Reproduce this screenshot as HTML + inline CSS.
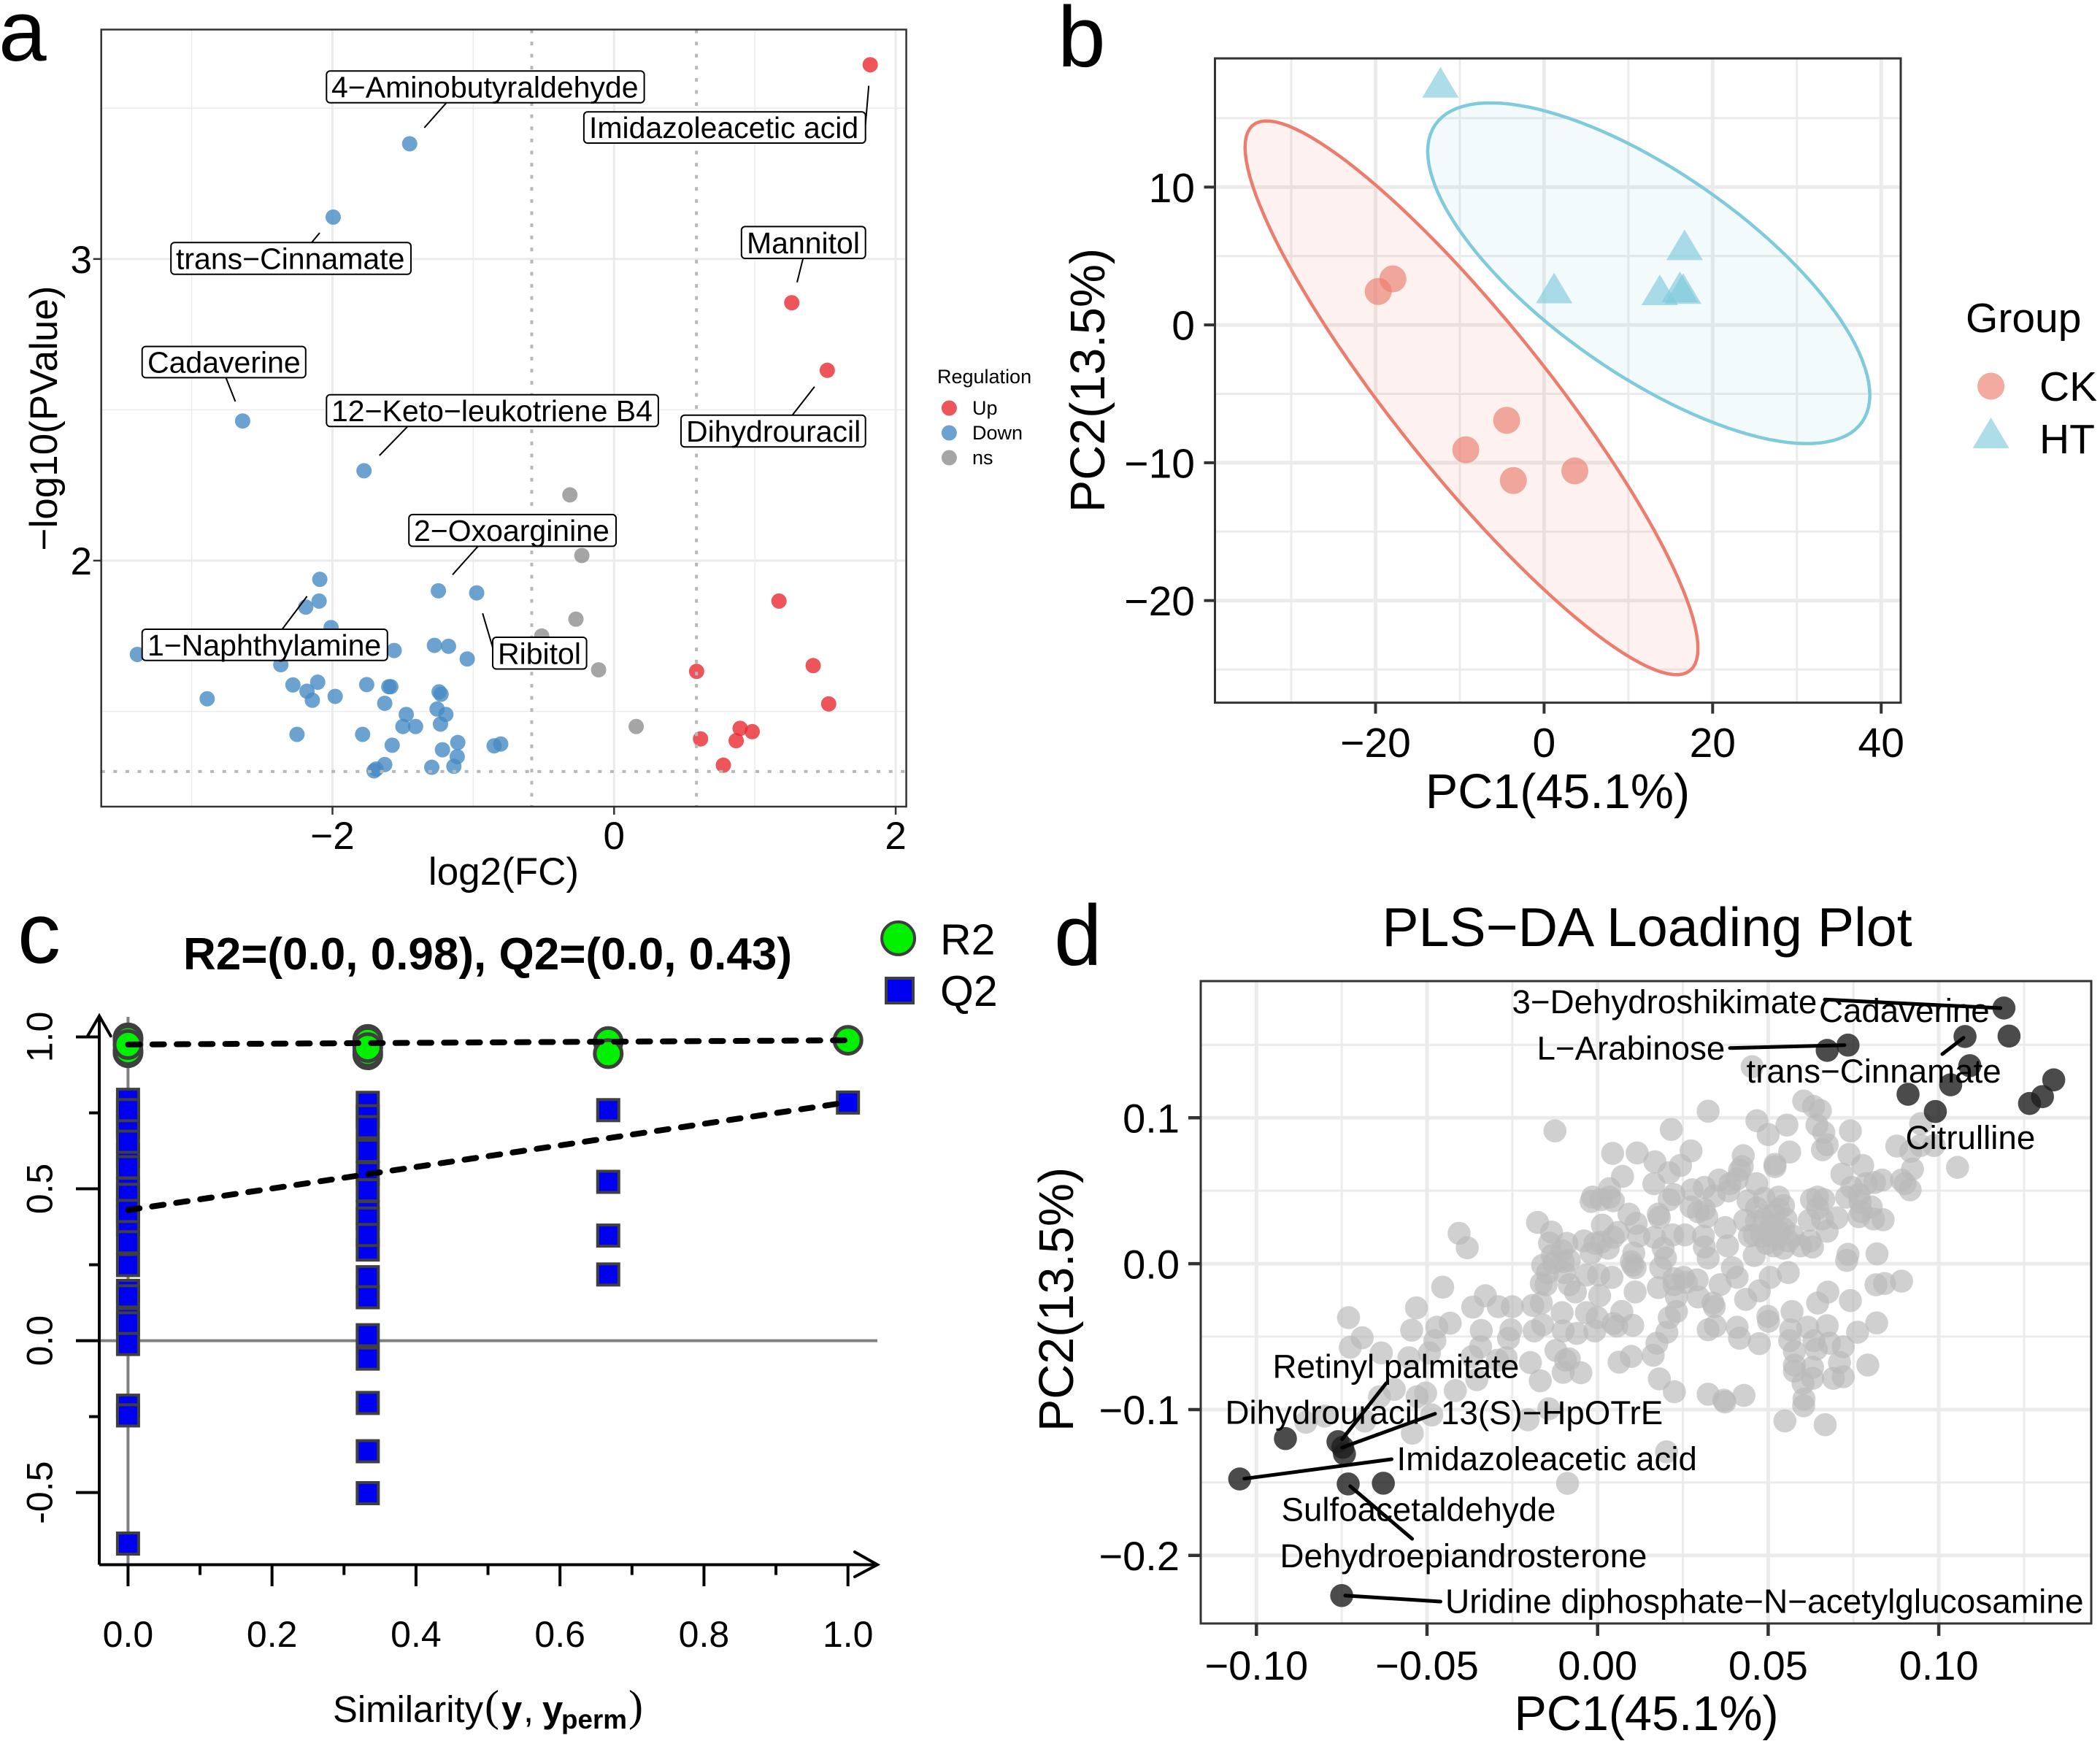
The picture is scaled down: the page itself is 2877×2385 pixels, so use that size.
<!DOCTYPE html>
<html lang="en">
<head>
<meta charset="utf-8">
<title>Metabolomics figure panels</title>
<style>
html,body{margin:0;padding:0;background:#fff;width:2877px;height:2385px;overflow:hidden}
svg{display:block}
text{font-family:"Liberation Sans",sans-serif;fill:#000}
.lab{font-size:41px}
.dlab{font-size:45.7px}
.box{fill:#fff;stroke:#000;stroke-width:2}
.seg{stroke:#000;stroke-width:2;fill:none}
.dseg{stroke:#000;stroke-width:5;fill:none;stroke-linecap:round}
.panel{font-size:118px}
</style>
</head>
<body>
<svg xmlns="http://www.w3.org/2000/svg" width="2877" height="2385" viewBox="0 0 2877 2385">
<rect width="2877" height="2385" fill="#fff"/>

<text class="panel" x="-2" y="83">a</text>
<text class="panel" x="1449" y="91">b</text>
<text class="panel" x="24" y="1319">c</text>
<text class="panel" x="1444" y="1322">d</text>

<g id="panel-a"></g>
<g id="a-annot">
  <line class="seg" x1="611.6" y1="140.8" x2="581.3" y2="175"/>
  <rect class="box" x="447.3" y="97.3" width="435.3" height="43.5" rx="5"/>
  <text class="lab" x="454" y="133.5">4−Aminobutyraldehyde</text>

  <line class="seg" x1="1190.2" y1="117.5" x2="1185.7" y2="171"/>
  <rect class="box" x="799.9" y="153.3" width="385.8" height="42.7" rx="5"/>
  <text class="lab" x="807" y="189">Imidazoleacetic acid</text>

  <line class="seg" x1="438" y1="319" x2="427" y2="332.2"/>
  <rect class="box" x="234.2" y="332.2" width="328.8" height="43.6" rx="5"/>
  <text class="lab" x="241" y="368.5">trans−Cinnamate</text>

  <line class="seg" x1="1100.2" y1="354" x2="1092" y2="386.7"/>
  <rect class="box" x="1015.8" y="310.4" width="169.9" height="43.6" rx="5"/>
  <text class="lab" x="1023" y="347">Mannitol</text>

  <line class="seg" x1="309.5" y1="517.4" x2="322.4" y2="550"/>
  <rect class="box" x="194.7" y="474.6" width="224.1" height="42.8" rx="5"/>
  <text class="lab" x="202" y="510.5">Cadaverine</text>

  <line class="seg" x1="558.4" y1="584.3" x2="519.8" y2="624"/>
  <rect class="box" x="447.3" y="540.7" width="454.6" height="43.6" rx="5"/>
  <text class="lab" x="454" y="577">12−Keto−leukotriene B4</text>

  <line class="seg" x1="1115.9" y1="529.8" x2="1085.5" y2="568.7"/>
  <rect class="box" x="933" y="568.7" width="252.7" height="43.6" rx="5"/>
  <text class="lab" x="940" y="605">Dihydrouracil</text>

  <line class="seg" x1="654.8" y1="748.4" x2="620" y2="787.3"/>
  <rect class="box" x="560.2" y="704.9" width="283.8" height="43.5" rx="5"/>
  <text class="lab" x="567" y="741">2−Oxoarginine</text>

  <line class="seg" x1="420.6" y1="816.9" x2="386.6" y2="862"/>
  <rect class="box" x="194.7" y="862" width="336.1" height="42.8" rx="5"/>
  <text class="lab" x="202" y="898">1−Naphthylamine</text>

  <line class="seg" x1="661.2" y1="840.2" x2="675" y2="887"/>
  <rect class="box" x="675" y="873" width="128.6" height="43.5" rx="5"/>
  <text class="lab" x="682" y="909.5">Ribitol</text>
</g>
<g id="a-legend">
  <text x="1284" y="525" font-size="27">Regulation</text>
  <circle cx="1300.4" cy="559" r="10.5" fill="#e82a31" opacity=".8"/>
  <text x="1332" y="568" font-size="27">Up</text>
  <circle cx="1300.4" cy="593" r="10.5" fill="#478bc4" opacity=".8"/>
  <text x="1332" y="602" font-size="27">Down</text>
  <circle cx="1300.4" cy="627" r="10.5" fill="#8e8e8e" opacity=".8"/>
  <text x="1332" y="636" font-size="27">ns</text>
</g>

<g id="panel-b"></g>
<g id="b-legend">
  <text x="2693" y="455" font-size="57">Group</text>
  <circle cx="2727.6" cy="529" r="18.5" fill="#eb7d6e" opacity=".65"/>
  <text x="2794" y="549" font-size="57">CK</text>
  <polygon points="2727.6,572 2752.6,614 2702.6,614" fill="#7fcbdb" opacity=".65"/>
  <text x="2794" y="621" font-size="57">HT</text>
</g>

<g id="panel-c"></g>
<g id="c-static">
  <text x="668" y="1328" font-size="62" font-weight="bold" text-anchor="middle">R2=(0.0, 0.98), Q2=(0.0, 0.43)</text>
  <circle cx="1230.6" cy="1285.4" r="22.5" fill="#00f000" stroke="#3f3f3f" stroke-width="4"/>
  <text x="1288" y="1307.7" font-size="59">R2</text>
  <rect x="1214" y="1340" width="37" height="34" fill="#0000f0" stroke="#3f3f3f" stroke-width="4"/>
  <text x="1288" y="1378" font-size="59">Q2</text>
  <g>
    <text x="456" y="2359" font-size="50.8">Similarity</text>
    <text x="664" y="2357" font-size="60" style="font-family:'Liberation Serif',serif">(</text>
    <text x="687" y="2359" font-size="50.8" font-weight="bold">y</text>
    <text x="717" y="2359" font-size="50.8">,</text>
    <text x="743" y="2359" font-size="50.8" font-weight="bold">y</text>
    <text x="769" y="2368" font-size="36.8" font-weight="bold">perm</text>
    <text x="861" y="2357" font-size="60" style="font-family:'Liberation Serif',serif">)</text>
  </g>
</g>

<g id="panel-d"></g>
<g id="d-annot">
  <line class="dseg" x1="2500" y1="1369.3" x2="2740.6" y2="1381"/>
  <line class="dseg" x1="2370" y1="1435.7" x2="2526.9" y2="1431.7"/>
  <line class="dseg" x1="2661" y1="1444" x2="2690" y2="1421.7"/>
  <line class="dseg" x1="1899" y1="1895" x2="1838.7" y2="1971.7"/>
  <line class="dseg" x1="1966" y1="1936.7" x2="1838.7" y2="1983"/>
  <line class="dseg" x1="1906.5" y1="1999" x2="1704.7" y2="2025.7"/>
  <line class="dseg" x1="1849.8" y1="2036" x2="1934.6" y2="2108"/>
  <line class="dseg" x1="1843" y1="2185.7" x2="1973.5" y2="2194"/>
  <text class="dlab" x="2071.5" y="1388">3−Dehydroshikimate</text>
  <text class="dlab" x="2492" y="1400">Cadaverine</text>
  <text class="dlab" x="2105.5" y="1451.7">L−Arabinose</text>
  <text class="dlab" x="2392.5" y="1483">trans−Cinnamate</text>
  <text class="dlab" x="2610.5" y="1574">Citrulline</text>
  <text class="dlab" x="1743.5" y="1887.5">Retinyl palmitate</text>
  <text class="dlab" x="1678.5" y="1950.5">Dihydrouracil</text>
  <text class="dlab" x="1974" y="1951">13(S)−HpOTrE</text>
  <text class="dlab" x="1913.5" y="2014">Imidazoleacetic acid</text>
  <text class="dlab" x="1755.5" y="2083.5">Sulfoacetaldehyde</text>
  <text class="dlab" x="1753.5" y="2147">Dehydroepiandrosterone</text>
  <text class="dlab" x="1980" y="2209.5" style="font-size:46px">Uridine diphosphate−N−acetylglucosamine</text>
  <text x="2256.5" y="1296" font-size="75.3" text-anchor="middle">PLS−DA Loading Plot</text>
</g>
</svg>

<script>
/* ---------- Panel a: volcano data (log2FC, -log10P) ---------- */
const volcanoUp=[[1.819,3.644],[1.262,2.855],[1.514,2.631],[1.171,1.866],[1.414,1.652],[0.586,1.633],[1.524,1.525],[0.895,1.444],[0.981,1.433],[0.614,1.409],[0.867,1.403],[0.776,1.322]];
const volcanoNs=[[-0.314,2.218],[-0.229,2.017],[-0.271,1.806],[-0.514,1.750],[-0.110,1.638],[0.157,1.450]];
const volcanoDown=[[-1.452,3.382],[-1.995,3.139],[-2.638,2.463],[-1.776,2.298],[-2.090,1.938],[-2.095,1.866],[-2.190,1.846],[-1.248,1.900],[-0.976,1.893],[-2.010,1.778],[-3.386,1.689],[-1.562,1.702],[-1.276,1.719],[-1.176,1.716],[-1.043,1.674],[-2.367,1.655],[-2.281,1.588],[-2.105,1.597],[-2.181,1.567],[-2.143,1.537],[-1.981,1.550],[-2.890,1.542],[-1.757,1.589],[-1.600,1.582],[-1.586,1.582],[-1.243,1.565],[-1.229,1.557],[-1.629,1.527],[-1.257,1.508],[-1.195,1.490],[-1.476,1.490],[-1.500,1.450],[-1.410,1.450],[-1.233,1.458],[-2.252,1.424],[-1.786,1.424],[-1.576,1.388],[-1.110,1.397],[-1.219,1.373],[-1.114,1.350],[-0.852,1.386],[-0.805,1.392],[-1.629,1.324],[-1.690,1.309],[-1.705,1.303],[-1.295,1.315],[-1.138,1.318]];
const volcanoXTicks=[-2,0,2];
const volcanoXTickLabels=['−2','0','2'];
const volcanoXMinor=[-3,-1,1];
const volcanoYTicks=[2,3];
const volcanoYTickLabels=['2','3'];
const volcanoYMinor=[1.5,2.5,3.5];
const volcanoFcCut=[-0.585,0.585];
const volcanoPCut=[1.301];

/* ---------- Panel b: PCA scores ---------- */
const scoresCK=[[-17.94,3.34],[-19.68,2.43],[-4.44,-6.92],[-9.29,-9.06],[-3.65,-11.29],[3.65,-10.59]];
const scoresHT=[[-12.3,17.6],[16.67,5.81],[1.19,2.68],[13.73,2.55],[16.11,2.76],[16.5,2.64]];
const ckEllipseCenter=[-8.61,-5.29];
const ckEllipseRadii=[26.87,20.09];
const ckEllipseCorr=-0.905;
const htEllipseCenter=[12.42,3.75];
const htEllipseRadii=[26.23,12.36];
const htEllipseCorr=-0.7156;
const pcaXTicks=[-20,0,20,40];
const pcaXTickLabels=['−20','0','20','40'];
const pcaXMinor=[-30,-10,10,30];
const pcaYTicks=[-20,-10,0,10];
const pcaYTickLabels=['−20','−10','0','10'];
const pcaYMinor=[-25,-15,-5,5,15];

/* ---------- Panel c: permutation test ---------- */
const permR2=[[0,0.997],[0,0.948],[0,0.99],[0,0.955],[0,0.975],
  [0.333,0.992],[0.333,0.941],[0.333,0.985],[0.333,0.95],[0.333,0.965],
  [0.667,0.985],[0.667,0.945],[1,0.989]];
const permQ2=[[0,0.793],[0,0.72],[0,0.705],[0,0.61],[0,0.5],[0,0.48],[0,0.41],[0,0.384],[0,0.249],[0,0.759],[0,0.655],[0,0.571],[0,0.427],[0,0.324],[0,0.164],[0,0.146],[0,0.071],[0,0.057],[0,-0.011],[0,-0.214],[0,-0.246],[0,-0.668],
  [0.333,0.783],[0.333,0.739],[0.333,0.703],[0.333,0.625],[0.333,0.551],[0.333,0.495],[0.333,0.423],[0.333,0.402],[0.333,0.30],[0.333,0.348],[0.333,0.209],[0.333,0.143],[0.333,0.018],[0.333,-0.059],[0.333,-0.205],[0.333,-0.364],[0.333,-0.502],
  [0.667,0.759],[0.667,0.523],[0.667,0.346],[0.667,0.218],[1,0.784]];
const r2Fit=[[0,0.975],[1,0.989]];
const q2Fit=[[0,0.43],[1,0.785]];
const permXTicks=[0,0.2,0.4,0.6,0.8,1];
const permXTickLabels=['0.0','0.2','0.4','0.6','0.8','1.0'];
const permXMinor=[0.1,0.3,0.5,0.7,0.9];
const permYTicks=[-0.5,0,0.5,1];
const permYTickLabels=['-0.5','0.0','0.5','1.0'];
const permYMinor=[-0.25,0.25,0.75];

/* ---------- Panel d: PLS-DA loadings ---------- */
const loadingsHighlighted=[[0.1191,0.1752],[0.1206,0.1560],[0.1077,0.1557],[0.0673,0.1462],[0.0734,0.1498],[0.1091,0.1357],[0.1337,0.1260],[0.1304,0.1145],[0.1266,0.1098],[0.1035,0.1226],[0.0910,0.1161],[0.0990,0.1043],[-0.0915,-0.1199],[-0.0761,-0.1220],[-0.0747,-0.1259],[-0.0742,-0.1304],[-0.1049,-0.1476],[-0.0731,-0.1510],[-0.0628,-0.1505],[-0.0750,-0.2275]];
const loadingsOtherUpper=[[.0453,.135],[.0604,.1115],[.0633,.1078],[.0653,.105],[.0555,.095],[.0467,.098],[.05,.0885],[.0643,.095],[.0663,.09],[.0741,.091],[.0324,.1045],[.0216,.092],[-.0125,.091],[.1055,.066],[.0947,.081],[.0986,.081],[.0947,.096],[.0918,.077],[-.0406,.0208],[-.0176,.0283],[-.0135,.0216],[-.0141,.0141]];
const loadingsOtherCentral=[[.0044,.0756],[.0116,.0759],[.0168,.0698],[.0274,.0773],[.0243,.0673],[.021,.0623],[.0073,.0598],[.0165,.0548],[.0427,.074],[.0563,.0765],[.052,.0681],[.052,.0665],[.0424,.0665],[.0416,.0639],[.0659,.0781],[.0673,.0815],[.0737,.0748],[.0777,.0673],[.0877,.0806],[.0716,.0614],[.0745,.0523],[.0787,.0548],[.0834,.0573],[.0812,.0556],[.0891,.0573],[.0901,.0548],[.0916,.0506],[.0923,.0648],[-.0015,.0456],[-.0019,.0426],[.0035,.0514],[.0035,.0456],[.0046,.0431],[.001,.0439],[.021,.0439],[.0224,.0473],[.0277,.0506],[.0313,.0523],[.0356,.0573],[.0388,.0548],[.0409,.0581],[.0342,.0464],[.0384,.0498],[.0466,.0548],[.0441,.0431],[.0488,.0448],[.0531,.0456],[.0545,.0398],[.0627,.0439],[.0663,.0439],[.0645,.0381],[.062,.0297],[.0659,.0306],[.0702,.0314],[.073,.0456],[.077,.0423],[.0802,.0389],[.0766,.0322],[.0809,.0306],[.0837,.0301],[.0092,.0339],[.0113,.0276],[.0014,.0264],[.0181,.0317],[.0178,.0339],[.0274,.0389],[.0295,.0356],[.032,.0322],[.0374,.0247],[.0431,.0297],[.0466,.0381],[.0531,.0372],[.0552,.0306],[.0466,.0289],[.0509,.0272],[.0545,.0239],[.0459,.0197],[.0523,.0172],[.0495,.0139],[.0559,.0156],[.0595,.0122],[.0623,.0156],[.063,.0114],[.0673,.0222],[.0734,.0064],[.073,.0022],[.0819,.0067],[-.004,.0156],[.001,.0147],[-.0008,.0139],[.0031,.0106],[.006,.0214],[.0046,.0181],[.0121,.0189],[.0167,.0181],[.022,.0197],[.0256,.0197],[.031,.0189],[.0192,.0106],[.0199,.0039],[.0313,.0114],[.0324,.0039],[.0381,.0122],[.0106,.0072],[.0099,.0014],[.011,-.0028],[.0185,-.0028],[-.0019,.0072],[-.0083,.0022],[-.0033,-.0078],[.0003,-.0078],[.0042,-.0094],[-.0083,-.0144],[-.0065,-.0194],[.0006,-.0219],[.011,-.0194],[.0178,-.0164],[.0224,-.0103],[.0252,-.0094],[.0292,-.0111],[.0359,-.0144],[.0395,-.0028],[.0409,-.0094],[.0459,.0056],[.0506,-.0094],[.0559,-.0061],[.0474,-.0186],[.0434,-.0245],[.0231,-.0228],[.0295,-.0228],[.0338,-.027],[.0342,-.0295],[.0231,-.0328],[.021,-.037],[.0203,-.047],[.0174,-.0545],[.0163,-.0628],[.0099,-.0636],[.0063,-.0675],[.0071,-.0328],[.0103,-.0423],[.0056,-.0428],[.0046,-.0411],[-.0001,-.037],[-.0033,-.0336],[-.0008,-.0461],[-.0061,-.0478],[.0324,-.0453],[.0345,-.0428],[.0409,-.0436],[.0416,-.0511],[.0474,-.0548],[.0499,-.0361],[.0501,-.0395],[.057,-.0328],[.0566,-.0453],[.0563,-.0528],[.0577,-.0603],[.0645,-.027],[.0675,-.0195],[.0741,-.0253],[.0816,-.0145],[.0841,-.0136],[.0891,-.012],[.0818,-.0406],[.0762,-.047],[.0673,-.0425],[.0616,-.0436],[.0634,-.0528],[.0641,-.0586],[.068,-.0545],[.072,-.057],[.0709,-.0678],[.0577,-.0695],[.0577,-.0736],[.063,-.0711],[.063,-.0786],[.0602,-.082],[.0691,-.0786],[.072,-.0775],[.0792,-.0695],[-.0083,-.0653],[-.0049,-.0748],[.0181,-.079],[.0225,-.0878],[.0324,-.0895],[.037,-.0936],[.0429,-.0903],[.0605,-.0928],[.0488,.0306],[.0516,.0339],[.0502,.0222],[.0531,.0222],[.0481,.0189],[.0516,.0122],[.0545,.0106],[.0573,.0189],[.0445,.0189],[.026,-.0128],[.0224,-.0144],[.0645,.0456],[.0766,.0473],[.0773,.0356],[.0313,.0372],[.0103,-.0011]];
const loadingsOtherLower=[[-.0329,-.022],[-.0366,-.0298],[-.0291,-.0295],[-.025,-.0295],[-.019,-.0286],[-.0165,-.0136],[-.0151,-.0145],[-.0165,-.027],[-.0101,.0014],[-.0129,.0006],[-.0097,-.0061],[-.0104,-.0336],[-.0101,-.0461],[-.0186,-.0461],[-.0161,-.042],[-.0531,-.0303],[-.0545,-.0456],[-.0471,-.0436],[-.0432,-.0408],[-.0477,-.0528],[-.0493,-.0612],[-.0553,-.0645],[-.0341,-.0458],[-.0254,-.0453],[-.0261,-.0512],[-.0343,-.057],[-.0368,-.0637],[-.0293,-.0662],[-.0268,-.0645],[-.0197,-.0678],[-.0168,-.0803],[-.0122,-.0595],[-.0094,-.0662],[-.0101,-.0745],[-.0354,-.0795],[-.0417,-.087],[-.0504,-.0887],[-.0529,-.0912],[-.0596,-.0862],[-.0639,-.0912],[-.0486,-.1037],[-.0543,-.1162],[-.0682,-.1079],[-.08,-.1045],[-.0855,-.1087],[-.0204,-.107],[-.073,-.037],[-.069,-.0508],[-.0725,-.0573],[-.0634,-.0612],[-.0454,-.0161],[-.0382,.0109],[-.0133,.0056],[-.0161,-.0011],[-.0104,.0089],[-.009,.0139],[-.0147,-.0061],[-.0143,-.0995],[.0604,-.0974],[.0549,-.1078],[.0667,-.1104],[.0373,-.0948],[.0202,-.129],[-.0088,-.1506]];
const loadXTicks=[-0.1,-0.05,0,0.05,0.1];
const loadXTickLabels=['−0.10','−0.05','0.00','0.05','0.10'];
const loadXMinor=[-0.075,-0.025,0.025,0.075,0.125];
const loadYTicks=[-0.2,-0.1,0,0.1];
const loadYTickLabels=['−0.2','−0.1','0.0','0.1'];
const loadYMinor=[-0.15,-0.05,0.05,0.15];

/* ---------- helpers ---------- */
const NS='http://www.w3.org/2000/svg';
function mk(parent,tag,geom,txt){
  const el=document.createElementNS(NS,tag);
  for(const k in geom)el.setAttribute(k,geom[k]);
  if(txt!==undefined)el.textContent=txt;
  parent.appendChild(el);
  
  return el;
}
function drawGrid(g,sx,sy,box,xMaj,xMin,yMaj,yMin,wMaj,wMin){
  xMin.forEach(v=>{
    const el=mk(g,'line',{x1:sx(v),x2:sx(v),y1:box.t,y2:box.b,stroke:'#ebebeb','stroke-width':wMin});
    
  });
  yMin.forEach(v=>{
    const el=mk(g,'line',{x1:box.l,x2:box.r,y1:sy(v),y2:sy(v),stroke:'#ebebeb','stroke-width':wMin});
    
  });
  xMaj.forEach(v=>{
    const el=mk(g,'line',{x1:sx(v),x2:sx(v),y1:box.t,y2:box.b,stroke:'#ebebeb','stroke-width':wMaj});
    
  });
  yMaj.forEach(v=>{
    const el=mk(g,'line',{x1:box.l,x2:box.r,y1:sy(v),y2:sy(v),stroke:'#ebebeb','stroke-width':wMaj});
    
  });
}
function drawAxes(g,sx,sy,box,o){
  o.xTicks.forEach((v,i)=>{
    const t=mk(g,'line',{x1:sx(v),x2:sx(v),y1:box.b,y2:box.b+o.tick,stroke:'#333','stroke-width':o.tickW});
    
    const l=mk(g,'text',{x:sx(v),y:o.xBase,'font-size':o.fs,'text-anchor':'middle'},o.xLabels[i]);
    
  });
  o.yTicks.forEach((v,i)=>{
    const t=mk(g,'line',{x1:box.l-o.tick,x2:box.l,y1:sy(v),y2:sy(v),stroke:'#333','stroke-width':o.tickW});
    
    const l=mk(g,'text',{x:o.yRight,y:sy(v)+o.fs*0.36,'font-size':o.fs,'text-anchor':'end'},o.yLabels[i]);
    
  });
}
function drawFrame(g,box,w){
  const el=mk(g,'rect',{x:box.l,y:box.t,width:box.r-box.l,height:box.b-box.t,fill:'none',stroke:'#333','stroke-width':w});
  
}
function axisTitles(g,xT,xX,xY,yT,yX,yY,fsX,fsY){
  const a=mk(g,'text',{x:xX,y:xY,'font-size':fsX,'text-anchor':'middle'},xT);
  
  const b=mk(g,'text',{transform:'translate('+yX+','+yY+') rotate(-90)','font-size':fsY,'text-anchor':'middle'},yT);
  
}

/* ---------- Panel a ---------- */
(function(){
  const g=document.getElementById('panel-a');
  const box={l:138.7,r:1241.6,t:40.5,b:1105};
  const sx=v=>841.3+192.9*v, sy=v=>768-413.2*(v-2);
  drawGrid(g,sx,sy,box,volcanoXTicks,volcanoXMinor,volcanoYTicks,volcanoYMinor,3,1.5);
  volcanoDown.forEach(p=>{
    const el=mk(g,'circle',{cx:sx(p[0]),cy:sy(p[1]),r:10.5,fill:'#478bc4',opacity:.8});
    
  });
  volcanoUp.forEach(p=>{
    const el=mk(g,'circle',{cx:sx(p[0]),cy:sy(p[1]),r:10.5,fill:'#e82a31',opacity:.8});
    
  });
  volcanoNs.forEach(p=>{
    const el=mk(g,'circle',{cx:sx(p[0]),cy:sy(p[1]),r:10.5,fill:'#8e8e8e',opacity:.8});
    
  });
  volcanoFcCut.forEach(v=>{
    const el=mk(g,'line',{x1:sx(v),x2:sx(v),y1:box.t,y2:box.b,stroke:'#b8b8b8','stroke-width':4,'stroke-dasharray':'5 11.6'});
    
  });
  volcanoPCut.forEach(v=>{
    const el=mk(g,'line',{x1:box.l,x2:box.r,y1:sy(v),y2:sy(v),stroke:'#b8b8b8','stroke-width':4,'stroke-dasharray':'5 11.6'});
    
  });
  drawFrame(g,box,2.5);
  drawAxes(g,sx,sy,box,{xTicks:volcanoXTicks,xLabels:volcanoXTickLabels,yTicks:volcanoYTicks,yLabels:volcanoYTickLabels,tick:11,tickW:2.5,xBase:1163,yRight:126,fs:53});
  axisTitles(g,'log2(FC)',690,1212,'−log10(PValue)',78,573,53,53);
})();

/* ---------- Panel b ---------- */
(function(){
  const g=document.getElementById('panel-b');
  const box={l:1664.5,r:2604,t:80,b:962.6};
  const sx=v=>2115.4+11.546*v, sy=v=>445.1-18.88*v;
  drawGrid(g,sx,sy,box,pcaXTicks,pcaXMinor,pcaYTicks,pcaYMinor,5,3);
  function ellipse(c,r,rho){
    let d='';
    for(let i=0;i<=120;i++){
      const t=i/120*2*Math.PI;
      const x=c[0]+r[0]*Math.cos(t);
      const y=c[1]+r[1]*(rho*Math.cos(t)+Math.sqrt(1-rho*rho)*Math.sin(t));
      d+=(i?'L':'M')+sx(x).toFixed(1)+' '+sy(y).toFixed(1);
    }
    return d+'Z';
  }
  const e1=mk(g,'path',{d:ellipse(ckEllipseCenter,ckEllipseRadii,ckEllipseCorr),fill:'#eb7d6e','fill-opacity':.1,stroke:'#ec7d6e','stroke-width':4.5});
  
  const e2=mk(g,'path',{d:ellipse(htEllipseCenter,htEllipseRadii,htEllipseCorr),fill:'#7fcbdb','fill-opacity':.1,stroke:'#7fcbdb','stroke-width':4.5});
  
  scoresCK.forEach(p=>{
    const el=mk(g,'circle',{cx:sx(p[0]),cy:sy(p[1]),r:18.5,fill:'#eb7d6e',opacity:.65});
    
  });
  scoresHT.forEach(p=>{
    const cx=sx(p[0]),cy=sy(p[1]);
    const el=mk(g,'polygon',{points:cx+','+(cy-21)+' '+(cx+25)+','+(cy+21)+' '+(cx-25)+','+(cy+21),fill:'#7fcbdb',opacity:.65});
    
  });
  drawFrame(g,box,3);
  drawAxes(g,sx,sy,box,{xTicks:pcaXTicks,xLabels:pcaXTickLabels,yTicks:pcaYTicks,yLabels:pcaYTickLabels,tick:15,tickW:4,xBase:1037,yRight:1637,fs:57});
  axisTitles(g,'PC1(45.1%)',2134,1107,'PC2(13.5%)',1513,521,66.5,66.5);
})();

/* ---------- Panel c ---------- */
(function(){
  const g=document.getElementById('panel-c');
  const sx=v=>175.4+986.3*v, sy=v=>1836.6-416.1*v;
  const axisY=2143.5, axisX=136;
  const h=mk(g,'line',{x1:104,x2:1202,y1:sy(0),y2:sy(0),stroke:'#808080','stroke-width':4});
  
  const v0=mk(g,'line',{x1:sx(0),x2:sx(0),y1:1393,y2:axisY,stroke:'#808080','stroke-width':4});
  
  permR2.forEach(p=>{
    const el=mk(g,'circle',{cx:sx(p[0]),cy:sy(p[1]),r:18.5,fill:'#00f000',stroke:'#3f3f3f','stroke-width':5});
    
  });
  permQ2.forEach(p=>{
    const el=mk(g,'rect',{x:sx(p[0])-14.5,y:sy(p[1])-14.5,width:29,height:29,fill:'#0000f0',stroke:'#3f3f3f','stroke-width':4});
    
  });
  const r2l=mk(g,'line',{x1:sx(r2Fit[0][0]),y1:sy(r2Fit[0][1]),x2:sx(r2Fit[1][0]),y2:sy(r2Fit[1][1]),stroke:'#000','stroke-width':8,'stroke-dasharray':'16 17.3','stroke-linecap':'round'});
  
  const q2l=mk(g,'line',{x1:sx(q2Fit[0][0]),y1:sy(q2Fit[0][1]),x2:sx(q2Fit[1][0]),y2:sy(q2Fit[1][1]),stroke:'#000','stroke-width':8,'stroke-dasharray':'16 17.3','stroke-linecap':'round'});
  
  const yAxis=mk(g,'polyline',{points:'120,1419.3 136,1391.7 151.7,1419.3',fill:'none',stroke:'#000','stroke-width':4,'stroke-linecap':'round'});
  
  const xAxis=mk(g,'polyline',{points:'1171,2126 1202,2143.5 1171,2160',fill:'none',stroke:'#000','stroke-width':4,'stroke-linecap':'round'});
  
  const yl=mk(g,'line',{x1:axisX,x2:axisX,y1:1392,y2:axisY,stroke:'#000','stroke-width':4});
  
  const xl=mk(g,'line',{x1:axisX,x2:1202,y1:axisY,y2:axisY,stroke:'#000','stroke-width':4});
  
  permXTicks.forEach((v,i)=>{
    const t=mk(g,'line',{x1:sx(v),x2:sx(v),y1:axisY,y2:2173,stroke:'#000','stroke-width':4});
    
    const l=mk(g,'text',{x:sx(v),y:2256,'font-size':50,'text-anchor':'middle'},permXTickLabels[i]);
    
  });
  permXMinor.forEach(v=>{
    const t=mk(g,'line',{x1:sx(v),x2:sx(v),y1:axisY,y2:2157.6,stroke:'#000','stroke-width':4});
    
  });
  permYTicks.forEach((v,i)=>{
    const t=mk(g,'line',{x1:104,x2:axisX,y1:sy(v),y2:sy(v),stroke:'#000','stroke-width':4});
    
    const l=mk(g,'text',{transform:'translate(71.6,'+sy(v)+') rotate(-90)','font-size':50,'text-anchor':'middle'},permYTickLabels[i]);
    
  });
  permYMinor.forEach(v=>{
    const t=mk(g,'line',{x1:122,x2:axisX,y1:sy(v),y2:sy(v),stroke:'#000','stroke-width':4});
    
  });
})();

/* ---------- Panel d ---------- */
(function(){
  const g=document.getElementById('panel-d');
  const box={l:1645,r:2865,t:1344,b:2224};
  const sx=v=>2188.7+4674*v, sy=v=>1731.1-1998.5*v;
  drawGrid(g,sx,sy,box,loadXTicks,loadXMinor,loadYTicks,loadYMinor,5,3);
  loadingsOtherUpper.concat(loadingsOtherCentral,loadingsOtherLower).forEach(p=>{
    const el=mk(g,'circle',{cx:sx(p[0]),cy:sy(p[1]),r:15.8,fill:'#bababa',opacity:.68});
    
  });
  loadingsHighlighted.forEach(p=>{
    const el=mk(g,'circle',{cx:sx(p[0]),cy:sy(p[1]),r:15.8,fill:'#1e1e1e',opacity:.8});
    
  });
  drawFrame(g,box,3);
  drawAxes(g,sx,sy,box,{xTicks:loadXTicks,xLabels:loadXTickLabels,yTicks:loadYTicks,yLabels:loadYTickLabels,tick:17,tickW:4.5,xBase:2301,yRight:1616,fs:56});
  axisTitles(g,'PC1(45.1%)',2255.6,2370,'PC2(13.5%)',1470,1780,66.5,66.5);
})();
</script>
</body>
</html>
